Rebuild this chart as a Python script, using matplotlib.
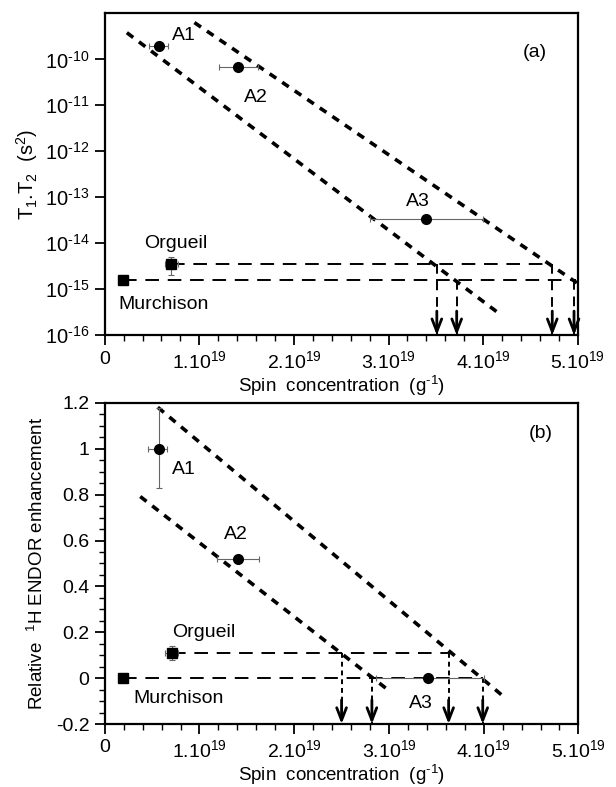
import matplotlib
matplotlib.use("Agg")
import matplotlib.pyplot as plt
import numpy as np
from matplotlib.ticker import MultipleLocator, LogLocator, NullFormatter

plt.rcParams['font.family'] = ['Liberation Sans', 'DejaVu Sans']
plt.rcParams['mathtext.fontset'] = 'custom'
plt.rcParams['mathtext.rm'] = 'Liberation Sans'
plt.rcParams['mathtext.it'] = 'Liberation Sans:italic'
plt.rcParams['mathtext.bf'] = 'Liberation Sans:bold'

# ---------------- data (x in units of 1e19 g^-1) ----------------
samples = ["A1", "A2", "A3"]
meteorites = ["Orgueil", "Murchison"]

# panel (a): T1.T2 (s^2)
a_x = [0.57, 1.41, 3.40]
a_xerr_lo = [0.10, 0.20, 0.60]
a_xerr_hi = [0.10, 0.21, 0.60]
a_y = [2.0e-10, 6.8e-11, 3.3e-14]
a_met_x = [0.705, 0.19]
a_met_y = [3.5e-15, 1.6e-15]
a_met_yerr_lo = [1.5e-15, 0.0]
a_met_yerr_hi = [1.5e-15, 0.0]
a_met_xerr = [0.07, 0.0]
a_line1_x = [0.234, 4.17]
a_line1_y = [10**-9.42, 10**-15.53]
a_line2_x = [0.948, 4.99]
a_line2_y = [10**-9.20, 10**-14.86]
a_hline_end = [4.72, 4.98]
a_arrows_x = [3.51, 3.72, 4.73, 4.96]
a_arrows_y = [3.5e-15, 1.6e-15, 3.5e-15, 1.6e-15]

# panel (b): relative 1H ENDOR enhancement
b_x = [0.57, 1.41, 3.41]
b_xerr_lo = [0.11, 0.23, 0.55]
b_xerr_hi = [0.09, 0.22, 0.59]
b_y = [1.0, 0.52, 0.0]
b_yerr_lo = [0.17, 0.0, 0.0]
b_yerr_hi = [0.18, 0.0, 0.0]
b_met_x = [0.705, 0.19]
b_met_y = [0.109, 0.0]
b_met_yerr = [0.03, 0.0]
b_met_xerr = [0.07, 0.0]
b_line1_x = [0.375, 2.99]
b_line1_y = [0.792, -0.051]
b_line2_x = [0.56, 4.23]
b_line2_y = [1.181, -0.087]
b_hline_end = [3.63, 3.99]
b_arrows_x = [2.50, 2.82, 3.63, 3.99]
b_arrows_y = [0.109, 0.0, 0.109, 0.0]

xticks = [0, 1, 2, 3, 4, 5]
xticklabels = ['0', r'$1.10^{19}$', r'$2.10^{19}$', r'$3.10^{19}$', r'$4.10^{19}$', r'$5.10^{19}$']
a_yticks = [1e-16, 1e-15, 1e-14, 1e-13, 1e-12, 1e-11, 1e-10]
a_yticklabels = [r'$10^{\text{-}16}$', r'$10^{\text{-}15}$', r'$10^{\text{-}14}$', r'$10^{\text{-}13}$',
                 r'$10^{\text{-}12}$', r'$10^{\text{-}11}$', r'$10^{\text{-}10}$']
b_yticks = [-0.2, 0, 0.2, 0.4, 0.6, 0.8, 1.0, 1.2]
b_yticklabels = ['-0.2', '0', '0.2', '0.4', '0.6', '0.8', '1', '1.2']

fig = plt.figure(figsize=(6.16, 7.87), dpi=100)
ax1 = fig.add_axes([0.170, 0.574, 0.768, 0.409])
ax2 = fig.add_axes([0.170, 0.080, 0.769, 0.408])

DIAG = dict(color='black', lw=2.6, dashes=(2.2, 2.0))
HLINE = dict(color='black', lw=1.4, dashes=(7, 4.5))
ERR = dict(ecolor='#666666', elinewidth=0.8, capsize=2.5, capthick=0.8)
TXT = 14


def style_axes(ax):
    for s in ax.spines.values():
        s.set_linewidth(1.6)
    ax.set_xlim(0, 5)
    ax.set_xticks(xticks)
    ax.set_xticklabels(xticklabels)
    ax.xaxis.set_minor_locator(MultipleLocator(0.2))
    ax.tick_params(which='major', direction='out', length=7, width=1.3, labelsize=14, pad=4)
    ax.tick_params(which='minor', direction='out', length=4, width=1.0)
    ax.tick_params(top=False, right=False)
    ax.set_xlabel(r'Spin  concentration  (g$^{\text{-}1}$)', fontsize=13.5, labelpad=1)


def draw_arrows(ax, xs, ys, vdashes):
    for x, y in zip(xs, ys):
        ax.plot([x, x], [y, ax.get_ylim()[0]], color='black', lw=1.4, dashes=vdashes)
        ax.annotate('', xy=(x, 0.0), xycoords=ax.get_xaxis_transform(),
                    xytext=(x, 0.075), textcoords=ax.get_xaxis_transform(),
                    arrowprops=dict(arrowstyle='->,head_length=0.9,head_width=0.35',
                                    color='black', lw=2.0, shrinkA=0, shrinkB=0))


# ---------------- panel (a) ----------------
ax1.set_yscale('log')
ax1.set_ylim(1e-16, 1e-9)
style_axes(ax1)
ax1.set_yticks(a_yticks)
ax1.set_yticklabels(a_yticklabels)
ax1.yaxis.set_minor_locator(LogLocator(base=10, subs=np.arange(2, 10)))
ax1.yaxis.set_minor_formatter(NullFormatter())
ax1.tick_params(axis='y', which='major', labelsize=14.5)

ax1.plot(a_line1_x, a_line1_y, **DIAG)
ax1.plot(a_line2_x, a_line2_y, **DIAG)
for mx, my, xe in zip(a_met_x, a_met_y, a_hline_end):
    ax1.plot([mx, xe], [my, my], **HLINE)
draw_arrows(ax1, a_arrows_x, a_arrows_y, (5, 3.5))

ax1.errorbar(a_x, a_y, xerr=[a_xerr_lo, a_xerr_hi], fmt='o', color='black', ms=7, **ERR)
ax1.errorbar(a_met_x, a_met_y, xerr=a_met_xerr, yerr=[a_met_yerr_lo, a_met_yerr_hi],
             fmt='s', color='black', ms=7, **ERR)

ax1.text(0.71, 10**-9.48, 'A1', fontsize=TXT, va='center', ha='left')
ax1.text(1.47, 10**-10.82, 'A2', fontsize=TXT, va='center', ha='left')
ax1.text(3.18, 10**-13.10, 'A3', fontsize=TXT, va='center', ha='left')
ax1.text(0.42, 10**-14.0, 'Orgueil', fontsize=TXT, va='center', ha='left')
ax1.text(0.146, 10**-15.33, 'Murchison', fontsize=TXT, va='center', ha='left')
ax1.text(0.883, 0.88, '(a)', fontsize=TXT, va='center', ha='left', transform=ax1.transAxes)
ax1.set_ylabel(r'T$_1$.T$_2$  (s$^2$)', fontsize=14.5)
ax1.yaxis.set_label_coords(-0.136, 0.5)

# ---------------- panel (b) ----------------
ax2.set_ylim(-0.2, 1.2)
style_axes(ax2)
ax2.set_yticks(b_yticks)
ax2.set_yticklabels(b_yticklabels)
ax2.yaxis.set_minor_locator(MultipleLocator(0.05))
ax2.tick_params(axis='y', which='major', labelsize=14)

ax2.plot(b_line1_x, b_line1_y, **DIAG)
ax2.plot(b_line2_x, b_line2_y, **DIAG)
for mx, my, xe in zip(b_met_x, b_met_y, b_hline_end):
    ax2.plot([mx, xe], [my, my], **HLINE)
draw_arrows(ax2, b_arrows_x, b_arrows_y, (2.5, 2.0))

ax2.errorbar(b_x, b_y, xerr=[b_xerr_lo, b_xerr_hi], yerr=[b_yerr_lo, b_yerr_hi],
             fmt='o', color='black', ms=7, **ERR)
ax2.errorbar(b_met_x, b_met_y, xerr=b_met_xerr, yerr=b_met_yerr,
             fmt='s', color='black', ms=7, **ERR)

ax2.text(0.71, 0.908, 'A1', fontsize=TXT, va='center', ha='left')
ax2.text(1.26, 0.625, 'A2', fontsize=TXT, va='center', ha='left')
ax2.text(3.21, -0.109, 'A3', fontsize=TXT, va='center', ha='left')
ax2.text(0.716, 0.20, 'Orgueil', fontsize=TXT, va='center', ha='left')
ax2.text(0.30, -0.087, 'Murchison', fontsize=TXT, va='center', ha='left')
ax2.text(0.895, 0.906, '(b)', fontsize=TXT, va='center', ha='left', transform=ax2.transAxes)
ax2.set_ylabel(r'Relative  $^1$H ENDOR enhancement', fontsize=13.5)
ax2.yaxis.set_label_coords(-0.121, 0.5)

fig.savefig('out.png', dpi=100)
